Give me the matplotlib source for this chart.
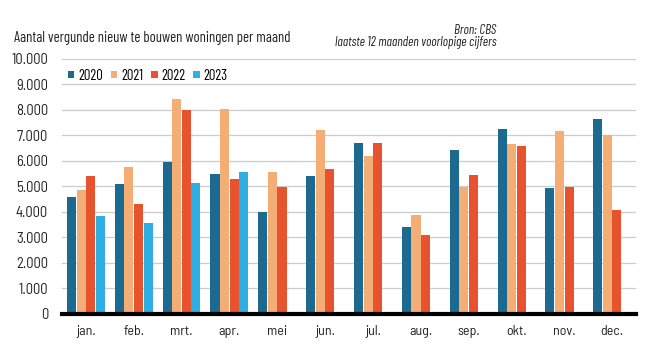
import matplotlib
matplotlib.use('Agg')
import matplotlib.pyplot as plt
import numpy as np

maanden = ['jan.', 'feb.', 'mrt.', 'apr.', 'mei', 'jun.', 'jul.', 'aug.', 'sep.', 'okt.', 'nov.', 'dec.']
jaren = ['2020', '2021', '2022', '2023']
v2020 = [4600, 5100, 5950, 5500, 4000, 5430, 6720, 3420, 6420, 7240, 4950, 7660]
v2021 = [4850, 5750, 8450, 8030, 5580, 7220, 6180, 3870, 4980, 6650, 7180, 7010]
v2022 = [5400, 4300, 7980, 5280, 4980, 5680, 6700, 3090, 5440, 6600, 4980, 4080]
v2023 = [3850, 3580, 5150, 5550]
kleuren = ['#1d6a91', '#f4ad74', '#e6532e', '#2eaee2']

plt.rcParams['font.family'] = ['Barlow Semi Condensed', 'Archivo Narrow', 'Roboto', 'DejaVu Sans']
smal = ['Barlow Condensed', 'Archivo Narrow', 'Roboto', 'DejaVu Sans']

fig = plt.figure(figsize=(6.66, 3.63), dpi=100)
ax = fig.add_axes([0.093, 0.135, 0.862, 0.7025])

x = np.arange(len(maanden))
w = 0.2
reeksen = [v2020, v2021, v2022, v2023]
for i, (jaar, vals) in enumerate(zip(jaren, reeksen)):
    xs = x[:len(vals)] + (i - 1.5) * w
    ax.bar(xs, vals, width=w * 0.95, color=kleuren[i], label=jaar, zorder=3)

ax.set_xlim(-0.5, 11.5)
ax.set_ylim(0, 10000)
ax.set_yticks(np.arange(0, 10001, 1000))
ax.set_yticklabels(['0'] + ['{:,}'.format(v).replace(',', '.') for v in range(1000, 10001, 1000)],
                   fontsize=10.5, color='#222222')
ax.set_xticks(x)
ax.set_xticklabels(maanden, fontsize=10, color='#222222')
ax.tick_params(length=0, pad=8)
ax.tick_params(axis='y', pad=10)
ax.grid(axis='y', color='#cccccc', linewidth=0.9, zorder=0)
for s in ['top', 'right', 'left']:
    ax.spines[s].set_visible(False)
ax.spines['bottom'].set_linewidth(3)
ax.spines['bottom'].set_color('black')
ax.spines['bottom'].set_zorder(4)

ax.legend(loc='upper left', bbox_to_anchor=(0.0, 0.985), borderaxespad=0, ncol=4, frameon=False,
          prop={'family': smal, 'size': 10.5},
          handlelength=0.45, handleheight=0.45, handletextpad=0.25, columnspacing=0.55)

fig.text(0.021, 0.885, 'Aantal vergunde nieuw te bouwen woningen per maand', fontsize=10.6,
         family=smal, color='#222222')
fig.text(0.745, 0.905, 'Bron: CBS', fontsize=9.5, style='italic', ha='right', family=smal, color='#222222')
fig.text(0.745, 0.872, 'laatste 12 maanden voorlopige cijfers', fontsize=9.5, style='italic', ha='right',
         family=smal, color='#222222')

fig.savefig('out.png', dpi=100)
